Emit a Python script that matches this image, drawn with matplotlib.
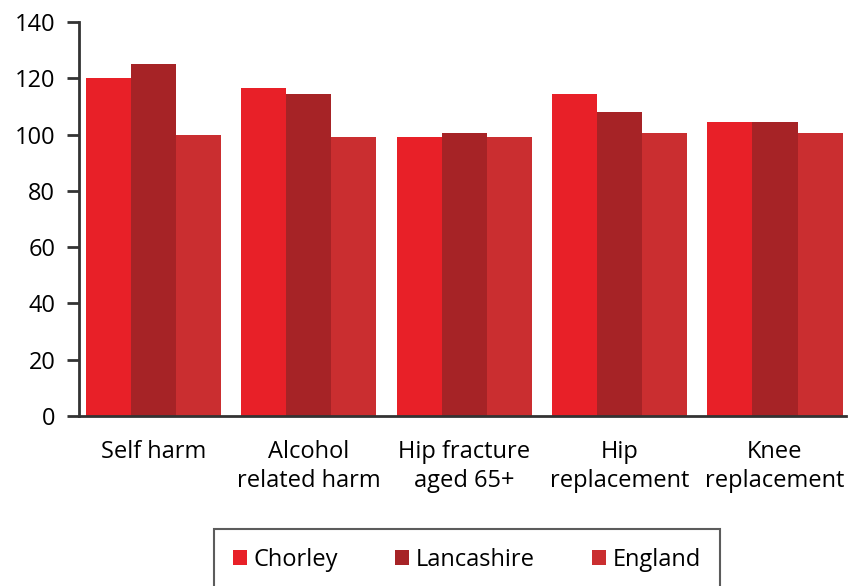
import matplotlib.pyplot as plt
import numpy as np

plt.rcParams['font.family'] = ['Open Sans', 'DejaVu Sans']

# admission ratios by area
categories = ['Self harm', 'Alcohol\nrelated harm', 'Hip fracture\naged 65+', 'Hip\nreplacement', 'Knee\nreplacement']
chorley = [120, 116.5, 99, 114.5, 104.5]
lancashire = [125, 114.5, 100.5, 108, 104.5]
england = [100, 99, 99, 100.5, 100.5]

series = [('Chorley', chorley, '#E82028'),
          ('Lancashire', lancashire, '#A62326'),
          ('England', england, '#CA2E30')]

fig, ax = plt.subplots(figsize=(8.49, 5.86), dpi=100)
fig.subplots_adjust(left=0.093, right=0.997, top=0.9625, bottom=0.29)

x = np.arange(len(categories))
width = 0.29
for i, (name, vals, col) in enumerate(series):
    ax.bar(x + (i - 1) * width, vals, width, color=col, label=name, linewidth=0)

ax.set_xlim(-0.48, 4.46)
ax.set_ylim(0, 140)
ax.set_yticks(range(0, 141, 20))
ax.set_xticks(x)
ax.set_xticklabels(categories, fontsize=17, linespacing=1.3)
ax.tick_params(axis='x', length=0, pad=17)
ax.tick_params(axis='y', length=9, width=2, color='#333333', labelsize=17, pad=8)

for s in ['top', 'right']:
    ax.spines[s].set_visible(False)
for s in ['left', 'bottom']:
    ax.spines[s].set_color('#333333')
    ax.spines[s].set_linewidth(2)

leg = fig.legend(loc='upper center', bbox_to_anchor=(0.55, 1 - 529 / 586), ncol=3,
                 fontsize=17, frameon=True, fancybox=False, edgecolor='#333333',
                 handlelength=0.6, handleheight=0.6, handletextpad=0.3,
                 columnspacing=2.4, borderpad=0.8, borderaxespad=0)
leg.get_frame().set_linewidth(1.5)

fig.savefig('out.png', dpi=100)
